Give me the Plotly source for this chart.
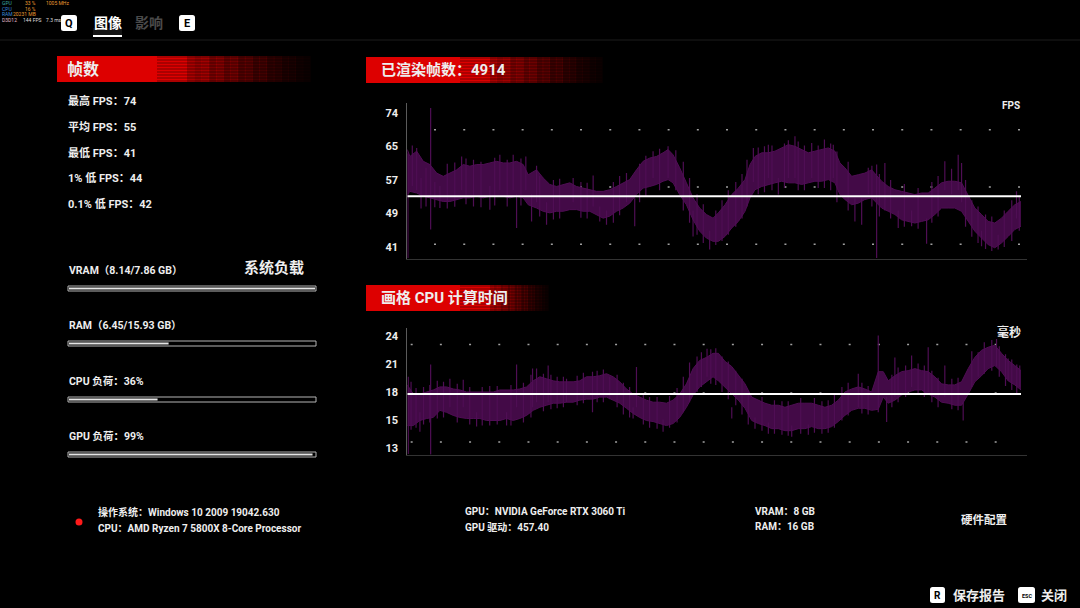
import numpy as np
import plotly.graph_objects as go

W, H = 1080, 608
FONT = "Roboto, Noto Sans CJK SC, sans-serif"

# ---- data ----
total_frames = 4914

fps_frames = [0, 21, 75, 128, 181, 235, 288, 341, 395, 448,
              501, 555, 608, 661, 715, 768, 821, 875, 928, 968,
              1035, 1088, 1141, 1195, 1248, 1301, 1355, 1408, 1461, 1515,
              1568, 1621, 1675, 1728, 1781, 1835, 1888, 1941, 1995, 2048,
              2088, 2128, 2181, 2235, 2288, 2341, 2395, 2448, 2491, 2544,
              2598, 2651, 2704, 2744, 2784, 2838, 2891, 2944, 2998, 3051,
              3104, 3158, 3211, 3264, 3318, 3371, 3424, 3464, 3504, 3558,
              3611, 3664, 3718, 3798, 3851, 3904, 3958, 4011, 4064, 4118,
              4171, 4224, 4278, 4331, 4384, 4438, 4491, 4544, 4598, 4651,
              4704, 4758, 4811, 4864, 4914]
fps_hi = [65.0, 63.3, 64.6, 62.1, 61.3, 59.2, 58.4, 59.2, 60.0, 61.3,
          60.9, 61.3, 61.3, 61.7, 62.1, 61.7, 61.7, 62.1, 61.3, 58.8,
          60.0, 58.0, 56.4, 55.9, 56.4, 56.8, 55.9, 55.5, 55.1, 54.7,
          54.7, 55.1, 55.9, 56.8, 57.6, 60.0, 62.1, 62.9, 63.3, 64.2,
          65.0, 63.7, 60.5, 56.8, 53.1, 50.6, 49.0, 48.1, 49.4, 51.4,
          53.9, 55.5, 57.6, 61.3, 63.3, 64.2, 64.2, 64.6, 65.4, 66.2,
          65.8, 65.0, 64.2, 64.6, 65.0, 65.4, 64.6, 61.7, 60.5, 58.4,
          58.8, 59.2, 60.0, 57.2, 55.9, 55.1, 54.7, 54.3, 53.9, 54.3,
          54.3, 55.5, 56.8, 57.2, 57.2, 56.8, 53.5, 50.6, 49.0, 47.3,
          46.9, 48.1, 49.8, 51.4, 52.2]
fps_lo = [53.9, 54.7, 54.3, 53.5, 53.1, 52.7, 52.2, 52.2, 52.7, 53.1,
          53.1, 53.5, 53.1, 53.5, 53.5, 53.5, 53.1, 53.5, 53.1, 51.4,
          50.6, 49.8, 49.4, 49.8, 49.8, 50.2, 50.2, 49.8, 49.8, 49.0,
          48.1, 48.6, 49.8, 50.6, 51.8, 53.9, 55.5, 55.9, 56.4, 57.2,
          57.6, 56.8, 53.9, 51.4, 47.7, 44.9, 43.2, 42.4, 42.4, 43.6,
          45.7, 47.3, 49.8, 53.1, 55.1, 55.9, 56.4, 56.8, 57.2, 56.8,
          56.8, 56.4, 56.8, 57.2, 57.2, 57.6, 56.8, 53.9, 52.7, 51.4,
          51.8, 52.7, 53.1, 50.6, 49.8, 49.0, 47.7, 47.3, 46.9, 47.3,
          47.7, 49.0, 50.6, 50.6, 50.6, 49.8, 47.3, 44.9, 43.2, 41.6,
          40.8, 42.0, 43.6, 45.3, 46.1]
# isolated frame-time spikes (frame, low, high)
fps_spike_frames = [5, 75, 187, 261, 435, 661, 741, 848, 875, 949, 995, 1035, 1115,
                    1328, 1488, 1541, 1595, 1755, 1821, 1968, 2088, 2288, 2421,
                    2771, 2891, 2971, 3051, 3104, 3238, 3411, 3584, 3638, 3691,
                    3758, 3824, 3931, 4038, 4158, 4304, 4358, 4411, 4438, 4598,
                    4731, 4878]
fps_spike_lo = [38.3, 55.0, 45.3, 50.6, 55.0, 50.2, 55.0, 55.0, 45.7, 55.0, 47.3, 52.0, 46.5,
                52.0, 51.0, 47.3, 46.5, 52.0, 46.1, 58.0, 58.0, 43.6, 40.4,
                57.0, 58.0, 53.9, 58.0, 58.0, 58.0, 58.0, 47.3, 46.5, 54.0,
                38.3, 50.0, 45.7, 46.1, 41.8, 55.0, 54.0, 55.0, 52.0, 41.2,
                40.4, 48.0]
fps_spike_hi = [64.0, 65.4, 75.2, 56.0, 63.3, 56.0, 63.7, 63.7, 54.0, 63.3, 54.0, 61.0, 52.0,
                58.0, 58.6, 51.0, 50.0, 59.2, 53.0, 64.6, 65.8, 50.0, 45.0,
                65.4, 66.2, 58.0, 67.3, 68.3, 66.6, 66.2, 53.0, 53.0, 60.5,
                61.3, 61.7, 50.0, 50.0, 48.0, 62.1, 60.3, 63.7, 61.7, 45.0,
                44.0, 54.7]
# fuzz along the band edges
fps_fuzz_frames = [40, 110, 150, 220, 320, 380, 470, 530, 590, 700, 800, 910, 1060, 1170,
                   1220, 1390, 1440, 1650, 1700, 1860, 1910, 2020, 2150, 2210, 2260, 2320,
                   2370, 2470, 2520, 2570, 2630, 2680, 2720, 2810, 2860, 2920, 3020, 3130,
                   3180, 3290, 3340, 3390, 3440, 3530, 3720, 3780, 3870, 3980, 4090, 4200,
                   4250, 4470, 4520, 4570, 4630, 4680, 4780, 4840, 4900]
fps_fuzz_lo = [56.0, 50.5, 51.0, 50.8, 50.5, 50.9, 51.5, 51.0, 50.8, 51.2, 51.0, 51.2, 48.5, 47.8,
               48.0, 48.2, 48.0, 47.0, 48.8, 52.0, 53.5, 55.0, 55.0, 50.0, 47.0, 44.0,
               42.0, 41.5, 42.5, 44.0, 46.0, 48.0, 51.0, 54.0, 54.5, 55.0, 55.5, 55.0,
               55.0, 55.5, 55.5, 55.0, 52.0, 50.0, 51.0, 48.5, 48.0, 46.0, 45.5, 47.0,
               48.5, 46.0, 43.5, 42.0, 40.5, 40.0, 41.0, 42.5, 45.0]
fps_fuzz_hi = [66.0, 58.0, 60.5, 57.0, 61.5, 61.8, 62.8, 62.5, 62.0, 63.0, 62.5, 62.8, 58.5, 57.5,
               57.8, 57.0, 56.8, 57.0, 58.5, 61.5, 63.5, 65.2, 64.8, 62.0, 58.0, 54.0,
               51.5, 50.0, 52.5, 55.0, 57.0, 59.0, 62.5, 65.5, 65.8, 66.0, 66.5, 67.0,
               66.0, 66.0, 67.5, 66.5, 64.5, 62.0, 61.0, 59.0, 57.5, 56.5, 55.5, 57.0,
               58.5, 57.5, 52.5, 51.0, 49.0, 48.5, 50.0, 52.5, 53.5]
fps_avg = 53.5
fps_ticks = [41, 74]
fps_ticktext = ["41", "49", "57", "65", "74"]

cpu_frames = [0, 48, 101, 155, 208, 261, 315, 368, 421, 475,
              528, 581, 635, 688, 741, 795, 848, 901, 955, 1008,
              1061, 1115, 1168, 1221, 1275, 1328, 1381, 1435, 1488, 1541,
              1595, 1648, 1701, 1755, 1808, 1861, 1915, 1968, 2021, 2075,
              2128, 2181, 2235, 2288, 2341, 2395, 2448, 2491, 2544, 2598,
              2651, 2704, 2758, 2811, 2864, 2918, 2971, 3024, 3078, 3131,
              3184, 3238, 3291, 3344, 3398, 3451, 3504, 3558, 3611, 3664,
              3718, 3771, 3811, 3851, 3904, 3958, 4011, 4064, 4118, 4171,
              4224, 4278, 4331, 4384, 4438, 4491, 4544, 4598, 4651, 4704,
              4758, 4811, 4864, 4914]
cpu_hi = [19.2, 18.3, 18.3, 18.5, 18.7, 19.0, 19.0, 18.8, 18.7, 18.5,
          18.5, 18.5, 18.5, 18.5, 18.7, 18.7, 18.7, 18.8, 19.0, 19.6,
          20.0, 19.8, 19.6, 19.5, 19.5, 19.5, 19.6, 20.0, 20.0, 20.1,
          20.3, 20.0, 19.5, 18.8, 18.3, 18.0, 17.7, 17.5, 17.5, 17.4,
          17.7, 18.3, 19.3, 20.8, 21.6, 21.9, 22.3, 22.3, 21.5, 21.0,
          20.1, 19.3, 18.0, 17.7, 17.4, 17.2, 17.2, 17.0, 17.2, 17.4,
          17.4, 17.4, 17.2, 17.0, 17.2, 17.7, 18.5, 18.8, 19.0, 18.8,
          18.5, 20.5, 20.5, 19.6, 20.1, 20.5, 20.6, 20.8, 20.6, 20.5,
          20.0, 19.3, 19.2, 19.2, 19.5, 20.8, 21.9, 22.6, 22.9, 23.1,
          22.3, 21.6, 21.1, 20.6]
cpu_lo = [15.2, 15.2, 15.7, 15.9, 16.0, 16.7, 16.5, 16.2, 16.0, 15.9,
          15.9, 15.9, 15.7, 15.7, 15.7, 15.9, 15.7, 15.9, 16.2, 16.7,
          17.0, 17.2, 17.4, 17.4, 17.5, 17.5, 17.7, 17.8, 17.8, 18.0,
          18.0, 17.7, 17.4, 16.9, 16.4, 16.0, 15.7, 15.6, 15.4, 15.2,
          15.4, 16.0, 17.0, 18.2, 19.0, 19.5, 20.0, 19.6, 19.0, 18.3,
          17.7, 16.9, 15.7, 15.4, 15.2, 14.9, 14.9, 14.7, 14.7, 14.9,
          14.9, 15.1, 14.9, 14.9, 15.1, 15.6, 16.2, 16.7, 16.9, 16.9,
          16.7, 16.8, 18.0, 17.4, 17.7, 18.2, 18.5, 18.7, 18.7, 18.3,
          18.0, 17.5, 17.4, 17.2, 17.2, 18.3, 19.5, 20.1, 20.8, 21.1,
          20.5, 19.6, 19.2, 18.7]
cpu_spike_frames = [8, 101, 187, 341, 448, 555, 795, 875, 1003, 1035, 1128, 1275, 1483,
                    1621, 1808, 1835, 2048, 2355, 2400, 2598, 2784, 2891, 3078, 3211,
                    3611, 3771, 3838, 3904, 4038, 4171, 4304, 4451, 4571, 4718, 4811, 4904]
cpu_spike_lo = [12.4, 14.6, 12.35, 17.0, 17.0, 15.1, 15.2, 17.0, 17.0, 17.5, 17.5, 17.5, 16.5,
                17.8, 15.9, 17.0, 14.6, 19.0, 20.0, 15.9, 14.9, 14.4, 14.1, 14.3,
                17.0, 16.5, 15.55, 18.0, 19.0, 18.5, 18.0, 15.7, 20.0, 21.0, 19.6, 19.0]
cpu_spike_hi = [20.0, 16.5, 21.2, 19.8, 19.7, 16.5, 16.5, 21.2, 20.8, 20.8, 21.1, 19.8, 20.5,
                20.0, 17.0, 20.95, 15.8, 22.4, 22.75, 17.0, 16.0, 15.5, 15.2, 15.3,
                20.3, 24.06, 18.0, 21.9, 22.1, 22.9, 21.1, 17.5, 22.4, 23.7, 21.8, 21.1]
cpu_fuzz_frames = [30, 70, 130, 180, 240, 290, 400, 500, 600, 660, 720, 830, 930, 990, 1090,
                   1150, 1200, 1250, 1360, 1410, 1520, 1570, 1680, 1730, 1780, 1890, 1940,
                   2000, 2100, 2160, 2210, 2260, 2320, 2430, 2470, 2520, 2570, 2630, 2680,
                   2730, 2840, 2940, 3000, 3050, 3150, 3260, 3320, 3370, 3420, 3480, 3530,
                   3640, 3690, 3880, 3930, 3990, 4090, 4140, 4200, 4250, 4360, 4410, 4520,
                   4620, 4680, 4740, 4790, 4840, 4880]
cpu_fuzz_lo = [14.8, 15.0, 15.3, 15.5, 15.9, 16.0, 15.5, 15.3, 15.2, 15.2, 15.3, 15.2, 15.5, 16.0, 16.6,
               16.8, 16.9, 17.0, 17.2, 17.4, 17.5, 17.5, 17.0, 16.3, 16.0, 15.3, 15.0,
               14.9, 15.0, 15.5, 16.5, 17.5, 18.5, 19.3, 19.2, 18.5, 17.8, 17.2, 16.3,
               15.3, 14.7, 14.4, 14.3, 14.2, 14.4, 14.5, 14.4, 14.5, 15.0, 15.7, 16.2,
               16.4, 16.3, 17.0, 17.5, 18.0, 18.2, 18.0, 17.5, 17.0, 16.8, 16.7, 19.0,
               20.3, 20.6, 20.0, 19.1, 18.7, 18.2]
cpu_fuzz_hi = [19.5, 18.9, 19.0, 19.2, 19.6, 19.5, 19.3, 19.0, 19.0, 19.1, 19.1, 19.2, 19.4, 20.2, 20.3,
               20.2, 20.0, 20.0, 20.1, 20.4, 20.6, 20.7, 20.2, 19.4, 19.0, 18.2, 18.0,
               18.0, 18.1, 18.9, 20.0, 21.4, 22.0, 22.7, 22.8, 22.0, 21.5, 20.6, 19.8,
               18.6, 18.0, 17.7, 17.6, 17.6, 17.9, 17.9, 17.6, 17.7, 18.2, 19.0, 19.4,
               19.4, 19.1, 20.2, 20.9, 21.1, 21.3, 21.1, 20.6, 19.9, 19.8, 19.9, 22.5,
               23.4, 23.6, 23.0, 22.2, 21.7, 21.2]
cpu_avg = 18.3
cpu_ticks = [13, 24]
cpu_ticktext = ["13", "15", "18", "21", "24"]

fps_stats = [("最高 FPS：", 74), ("平均 FPS：", 55), ("最低 FPS：", 41),
             ("1% 低 FPS：", 44), ("0.1% 低 FPS：", 42)]
vram_used, vram_total = 8.14, 7.86
ram_used, ram_total = 6.45, 15.93
cpu_load, gpu_load = 36, 99

PURPLE = "#430a47"
PURPLE_EDGE = "#4f0e54"


def X(px):
    return px / W


def Y(py):
    return 1 - py / H


def spikes(frames, lo, hi):
    xs, ys = [], []
    for f, a, b in zip(frames, lo, hi):
        xs += [f, f, None]
        ys += [a, b, None]
    return xs, ys


fig = go.Figure()

# bands + spikes for both charts
charts = [
    (fps_frames, fps_lo, fps_hi, fps_spike_frames + fps_fuzz_frames, fps_spike_lo + fps_fuzz_lo,
     fps_spike_hi + fps_fuzz_hi, fps_avg, "x", "y"),
    (cpu_frames, cpu_lo, cpu_hi, cpu_spike_frames + cpu_fuzz_frames, cpu_spike_lo + cpu_fuzz_lo,
     cpu_spike_hi + cpu_fuzz_hi, cpu_avg, "x2", "y2"),
]
for frames, lo, hi, sf, slo, shi, avg, xa, ya in charts:
    fig.add_trace(go.Scatter(x=frames, y=lo, mode="lines", line=dict(color=PURPLE_EDGE, width=1),
                             xaxis=xa, yaxis=ya, hoverinfo="skip"))
    fig.add_trace(go.Scatter(x=frames, y=hi, mode="lines", line=dict(color=PURPLE_EDGE, width=1),
                             fill="tonexty", fillcolor=PURPLE, xaxis=xa, yaxis=ya, hoverinfo="skip"))
    sx, sy = spikes(sf, slo, shi)
    fig.add_trace(go.Scatter(x=sx, y=sy, mode="lines", line=dict(color=PURPLE_EDGE, width=1.2),
                             xaxis=xa, yaxis=ya, hoverinfo="skip"))
    fig.add_trace(go.Scatter(x=[0, total_frames], y=[avg, avg], mode="lines",
                             line=dict(color="white", width=2), xaxis=xa, yaxis=ya, hoverinfo="skip"))

axis_x = dict(range=[0, 4962], showgrid=False, zeroline=False, showticklabels=False,
              showline=True, linecolor="#333333", linewidth=1, fixedrange=True)
tickfont = dict(size=11, color="#eeeeee", family=FONT, weight="bold")
fig.update_layout(
    width=W, height=H, showlegend=False,
    paper_bgcolor="black", plot_bgcolor="black",
    margin=dict(l=0, r=0, t=0, b=0),
    xaxis=dict(axis_x, domain=[X(407.3), X(1027)], anchor="y"),
    yaxis=dict(domain=[Y(258.7), Y(103)], range=[38.12, 76.46], anchor="x",
               tickvals=list(np.linspace(fps_ticks[0], fps_ticks[1], len(fps_ticktext))),
               ticktext=fps_ticktext,
               showgrid=False, zeroline=False, showline=True, linecolor="#5a5a5a",
               ticks="outside", ticklen=6, tickcolor="rgba(0,0,0,0)", tickfont=tickfont,
               fixedrange=True),
    xaxis2=dict(axis_x, domain=[X(407.3), X(1027)], anchor="y2"),
    yaxis2=dict(domain=[Y(454.7), Y(328)], range=[12.34, 24.79], anchor="x2",
                tickvals=list(np.linspace(cpu_ticks[0], cpu_ticks[1], len(cpu_ticktext))),
                ticktext=cpu_ticktext,
                showgrid=False, zeroline=False, showline=True, linecolor="#5a5a5a",
                ticks="outside", ticklen=6, tickcolor="rgba(0,0,0,0)", tickfont=tickfont,
                fixedrange=True),
)

shapes = []
anns = []


def rect(x0, y0, x1, y1, fill, line=None, lw=0, layer="above"):
    shapes.append(dict(type="rect", xref="paper", yref="paper", x0=X(x0), x1=X(x1),
                       y0=Y(y1), y1=Y(y0), fillcolor=fill, layer=layer,
                       line=dict(color=line or "rgba(0,0,0,0)", width=lw)))


def hline(x0, x1, y, color, width=1, dash="solid"):
    shapes.append(dict(type="line", xref="paper", yref="paper", x0=X(x0), x1=X(x1),
                       y0=Y(y), y1=Y(y), line=dict(color=color, width=width, dash=dash)))


def text(s, x, y, size=11, color="#eeeeee", anchor="left", bold=True):
    anns.append(dict(text=f"<b>{s}</b>" if bold else s, x=X(x), y=Y(y), xref="paper", yref="paper",
                     xanchor=anchor, yanchor="middle", showarrow=False,
                     font=dict(size=size, color=color, family=FONT)))


def keycap(x0, y0, x1, y1, label, size=11):
    r = 2.5
    path = (f"M{X(x0 + r)},{Y(y0)} L{X(x1 - r)},{Y(y0)} Q{X(x1)},{Y(y0)} {X(x1)},{Y(y0 + r)} "
            f"L{X(x1)},{Y(y1 - r)} Q{X(x1)},{Y(y1)} {X(x1 - r)},{Y(y1)} L{X(x0 + r)},{Y(y1)} "
            f"Q{X(x0)},{Y(y1)} {X(x0)},{Y(y1 - r)} L{X(x0)},{Y(y0 + r)} Q{X(x0)},{Y(y0)} {X(x0 + r)},{Y(y0)} Z")
    shapes.append(dict(type="path", xref="paper", yref="paper", path=path, fillcolor="white",
                       line=dict(width=0)))
    text(label, (x0 + x1) / 2, (y0 + y1) / 2 + 0.5, size=size, color="black", anchor="center")


fade_alpha = [0.85, 0.75, 0.8, 0.6, 0.65, 0.5, 0.55, 0.4, 0.42, 0.3, 0.32, 0.22, 0.2, 0.14, 0.12, 0.08, 0.06]


def banner(x0, x1, xf, y0, y1):
    rect(x0, y0, x1, y1, "#dd0000")
    step = (xf - x1) / len(fade_alpha)
    for i, a in enumerate(fade_alpha):
        rect(x1 + i * step, y0, x1 + (i + 1) * step + 0.5, y1, f"rgba(200,0,0,{a})")
    y = y0 + 1
    while y < y1:
        hline(x1 - 30, xf, y, "rgba(0,0,0,0.45)", width=1)
        y += 3


# top-left overlay
ov_rows = [("GPU", "#38a8a0", "33 %", "1005 MHz"), ("CPU", "#3a8ad8", "16 %", ""),
           ("RAM", "#3a8ad8", "20231 MB", ""), ("D3D12", "#e0b8c8", "144 FPS", "7.3 ms")]
for i, (name, col, v1, v2) in enumerate(ov_rows):
    yy = 3 + i * 5.7
    text(name, 0, yy, size=5, color=col, bold=False)
    text(v1, 38 if i < 3 else 21, yy, size=5, color="#e89a30" if i < 3 else "#dddddd",
         anchor="right" if i < 3 else "left", bold=False)
    if v2:
        text(v2, 44, yy, size=5, color="#e89a30" if i == 0 else "#dddddd", bold=False)

# tabs
keycap(61, 15, 77, 31, "Q")
text("图像", 108, 23, size=14, color="#ffffff", anchor="center")
text("影响", 149, 23, size=14, color="#4a4a4a", anchor="center")
keycap(179, 15, 195, 31, "E")
rect(93, 28, 122, 35, "rgba(255,255,255,0.08)")
hline(93, 122, 36, "white", width=2)
hline(0, W, 40, "#1c1c1c", width=1)

# banners
banner(57, 187, 310, 56, 82)
text("帧数", 65, 69, size=16)
banner(366, 490, 602, 57, 83)
text(f"已渲染帧数：{total_frames}", 379, 70, size=15)
banner(366, 490, 548, 285, 311)
text("画格 CPU 计算时间", 379, 298, size=15)

# fps stats
for i, (lab, val) in enumerate(fps_stats):
    text(f"{lab}{val}", 66, 101 + i * 25.8, size=11)

# system load
text("系统负载", 242, 268, size=15)
loads = [(f"VRAM（{vram_used}/{vram_total} GB）", vram_used / vram_total, 270),
         (f"RAM（{ram_used}/{ram_total} GB）", ram_used / ram_total, 325),
         (f"CPU 负荷：{cpu_load}%", cpu_load / 100, 381),
         (f"GPU 负荷：{gpu_load}%", gpu_load / 100, 436)]
for lab, frac, yl in loads:
    text(lab, 67, yl, size=10.5)
    yb = yl + 16
    rect(68, yb, 316, yb + 5, "black", line="#b5b5b5", lw=1)
    rect(69, yb + 1.5, 69 + 246 * min(frac, 1.0), yb + 3.5, "#e6e6e6")

# chart units and dotted grid
text("FPS", 1022, 106, size=10, anchor="right")
text("毫秒", 1023, 332, size=12, anchor="right")
for v in [69.9, 55.8, 41.7]:
    shapes.append(dict(type="line", xref="x", yref="y", x0=214, x1=total_frames, y0=v, y1=v,
                       line=dict(color="#a0a0a0", width=1.5, dash="2px,27.2px"), layer="below"))
for v in [23.18, 18.4, 13.6]:
    shapes.append(dict(type="line", xref="x2", yref="y2", x0=27, x1=total_frames, y0=v, y1=v,
                       line=dict(color="#a0a0a0", width=1.5, dash="2px,27.2px"), layer="below"))

# hardware info
shapes.append(dict(type="circle", xref="paper", yref="paper", x0=X(75.5), x1=X(82.5),
                   y0=Y(525.5), y1=Y(518.5), fillcolor="#ff1a1a", line=dict(width=0)))
text("操作系统：Windows 10 2009 19042.630", 96, 512, size=10)
text("CPU：AMD Ryzen 7 5800X 8-Core Processor", 96, 528, size=10)
text("GPU：NVIDIA GeForce RTX 3060 Ti", 463, 511, size=10)
text("GPU 驱动：457.40", 463, 527, size=10)
text("VRAM：8 GB", 753, 511, size=10)
text("RAM：16 GB", 753, 526, size=10)
text("硬件配置", 959, 520, size=11.5)

# footer buttons
keycap(930, 587, 945, 603, "R", size=10)
text("保存报告", 951, 595, size=13)
keycap(1018, 587, 1035, 603, "ESC", size=5.5)
text("关闭", 1039, 595, size=13)

fig.update_layout(shapes=shapes, annotations=anns)
fig.write_html("out.html", config={"displayModeBar": False},
               post_script="document.body.style.margin='0';document.body.style.background='black';")
